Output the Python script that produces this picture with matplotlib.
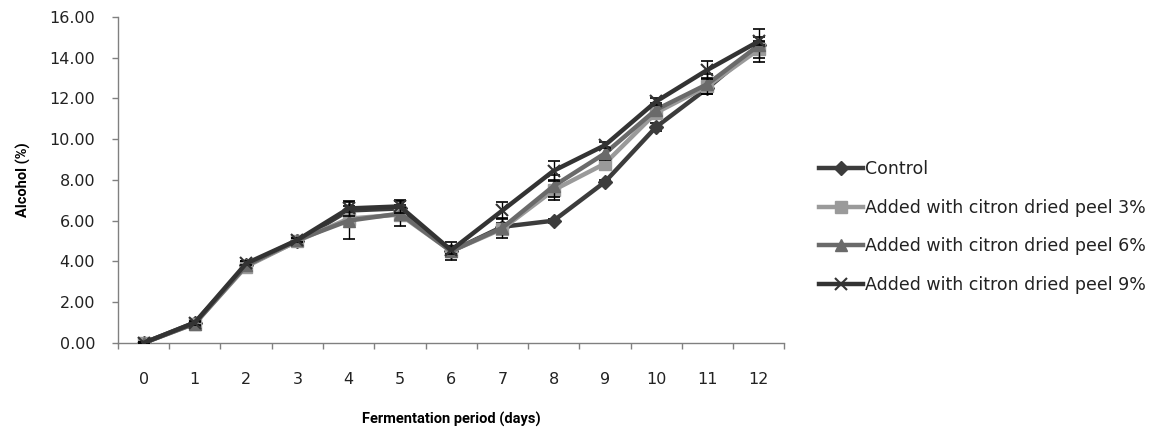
import numpy as np
import matplotlib
matplotlib.use("Agg")
import matplotlib.pyplot as plt

plt.rcParams['font.family'] = ['DejaVu Sans']

days = [0, 1, 2, 3, 4, 5, 6, 7, 8, 9, 10, 11, 12]

control = [0.0, 1.0, 3.8, 5.0, 6.5, 6.6, 4.5, 5.7, 6.0, 7.9, 10.6, 12.5, 14.6]
peel3 = [0.0, 0.95, 3.75, 5.0, 6.1, 6.3, 4.5, 5.6, 7.5, 8.8, 11.3, 12.6, 14.4]
peel6 = [0.0, 0.95, 3.8, 5.05, 6.0, 6.35, 4.5, 5.65, 7.7, 9.3, 11.45, 12.7, 14.6]
peel9 = [0.0, 1.0, 3.9, 5.05, 6.6, 6.7, 4.55, 6.5, 8.45, 9.7, 11.85, 13.4, 14.8]

err_control = [0.05, 0.1, 0.15, 0.1, 0.2, 0.15, 0.1, 0.15, 0.1, 0.1, 0.2, 0.15, 0.15]
err_peel3 = [0.05, 0.1, 0.1, 0.1, 0.3, 0.3, 0.2, 0.3, 0.5, 0.3, 0.3, 0.4, 0.4]
err_peel6 = [0.05, 0.1, 0.2, 0.1, 0.9, 0.6, 0.45, 0.5, 0.55, 0.3, 0.3, 0.5, 0.8]
err_peel9 = [0.05, 0.1, 0.1, 0.1, 0.35, 0.3, 0.2, 0.4, 0.5, 0.15, 0.15, 0.45, 0.2]

labels = ["Control",
          "Added with citron dried peel 3%",
          "Added with citron dried peel 6%",
          "Added with citron dried peel 9%"]

fig = plt.figure(figsize=(11.5, 4.33), dpi=100)
ax = fig.add_axes([0.1026, 0.208, 0.5794, 0.753])

series = [
    (control, err_control, "#3c3c3c", "D", 7, 1),
    (peel3, err_peel3, "#9a9a9a", "s", 8, 2),
    (peel6, err_peel6, "#6a6a6a", "^", 9, 3),
    (peel9, err_peel9, "#333333", "x", 9, 4),
]

handles = []
for (vals, err, col, mk, ms, z), lab in zip(series, labels):
    ax.errorbar(days, vals, yerr=err, fmt="none", ecolor="black",
                elinewidth=1.0, capsize=4, capthick=1.2, zorder=z)
    h, = ax.plot(days, vals, color=col, lw=3.2, marker=mk, ms=ms,
                 mec=col, mfc=col, mew=1.5 if mk == "x" else 1, label=lab, zorder=z)
    handles.append(h)

ax.set_xlim(-0.5, 12.5)
ax.set_ylim(0, 16)
ax.set_yticks(np.arange(0, 16.01, 2))
ax.set_yticklabels([f"{v:.2f}" for v in np.arange(0, 16.01, 2)])
ax.set_xticks(days)
ax.set_xticklabels([str(d) for d in days])
ax.set_xticks(np.arange(-0.5, 12.6, 1), minor=True)
ax.tick_params(axis="x", which="major", length=0, pad=21, labelsize=11.5, labelcolor="#222222")
ax.tick_params(axis="x", which="minor", length=4, color="#808080", width=1)
ax.tick_params(axis="y", length=4, color="#808080", width=1, pad=12.5,
               labelsize=11.5, labelcolor="#222222")

for s in ["top", "right"]:
    ax.spines[s].set_visible(False)
for s in ["left", "bottom"]:
    ax.spines[s].set_color("#808080")
    ax.spines[s].set_linewidth(1)

narrow = ["Roboto", "DejaVu Sans"]
ax.set_xlabel("Fermentation period (days)", fontsize=10.5, fontweight="bold",
              family=narrow, labelpad=18)
ax.set_ylabel("Alcohol (%)", fontsize=10.5, fontweight="bold", family=narrow, labelpad=13)

fig.legend(handles=handles, labels=labels, loc="upper left",
           bbox_to_anchor=(0.699, 0.667), frameon=False, fontsize=12.5,
           handlelength=2.5, handletextpad=0.1, labelspacing=1.2,
           labelcolor="#222222")

fig.savefig("out.png", dpi=100)
